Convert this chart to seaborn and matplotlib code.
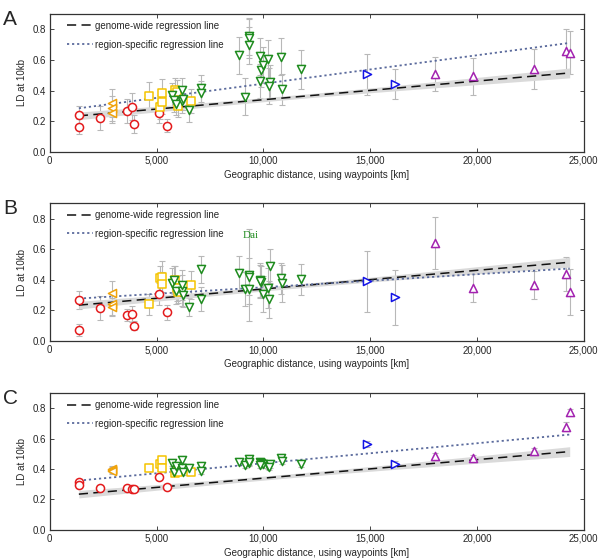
import matplotlib
matplotlib.use("Agg")
import matplotlib.pyplot as plt
import seaborn as sns
import numpy as np
from matplotlib.ticker import FuncFormatter

# distances [km], shared by all three panels
red_x = [1360, 1360, 2370, 3620, 3870, 3950, 5120, 5480]
orange_x = [2890, 2890, 2890]
yellow_x = [4650, 5150, 5230, 5270, 5850, 5950, 6000, 6630]
green_x = [5730, 5800, 5900, 6180, 6210, 6250, 6510, 7070, 7090, 8860, 9130, 9330,
           9330, 9340, 9860, 9880, 9990, 9830, 10220, 10300, 10250, 10815, 10890, 11780]
blue_x = [14830, 16180]
purple_x = [18020, 19820, 22670, 24190, 24340]

# LD at 10kb, panel A
red_a = [0.238, 0.165, 0.219, 0.265, 0.295, 0.182, 0.256, 0.171]
orange_a = [0.317, 0.284, 0.256]
yellow_a = [0.366, 0.291, 0.386, 0.327, 0.403, 0.392, 0.300, 0.332]
green_a = [0.371, 0.340, 0.310, 0.330, 0.403, 0.345, 0.273, 0.414, 0.382, 0.631, 0.360, 0.754,
           0.740, 0.696, 0.624, 0.533, 0.566, 0.462, 0.603, 0.457, 0.429, 0.620, 0.408, 0.538]
blue_a = [0.505, 0.442]
purple_a = [0.507, 0.494, 0.540, 0.659, 0.646]

red_a_err = [0.06, 0.05, 0.08, 0.08, 0.09, 0.06, 0.07, 0.04]
orange_a_err = [0.09, 0.08, 0.07]
yellow_a_err = [0.09, 0.08, 0.09, 0.08, 0.08, 0.08, 0.07, 0.08]
green_a_err = [0.08, 0.08, 0.07, 0.08, 0.08, 0.07, 0.08, 0.09, 0.08, 0.12, 0.12, 0.12,
               0.13, 0.12, 0.12, 0.11, 0.12, 0.11, 0.13, 0.11, 0.12, 0.12, 0.10, 0.13]
blue_a_err = [0.135, 0.10]
purple_a_err = [0.11, 0.12, 0.13, 0.14, 0.14]

# panel B
red_b = [0.267, 0.072, 0.217, 0.170, 0.176, 0.100, 0.307, 0.187]
orange_b = [0.311, 0.241, 0.224]
yellow_b = [0.239, 0.409, 0.420, 0.372, 0.402, 0.344, 0.320, 0.365]
green_b = [0.376, 0.400, 0.330, 0.330, 0.365, 0.300, 0.224, 0.468, 0.274, 0.445, 0.340, 0.430,
           0.340, 0.420, 0.398, 0.387, 0.307, 0.390, 0.348, 0.489, 0.272, 0.409, 0.376, 0.404]
blue_b = [0.391, 0.285]
purple_b = [0.641, 0.348, 0.365, 0.437, 0.318]

red_b_err = [0.06, 0.04, 0.08, 0.04, 0.05, 0.03, 0.07, 0.05]
orange_b_err = [0.08, 0.07, 0.06]
yellow_b_err = [0.07, 0.08, 0.10, 0.08, 0.09, 0.08, 0.07, 0.09]
green_b_err = [0.10, 0.09, 0.09, 0.10, 0.10, 0.08, 0.06, 0.09, 0.08, 0.11, 0.11, 0.30,
               0.10, 0.12, 0.11, 0.10, 0.12, 0.11, 0.13, 0.11, 0.12, 0.10, 0.12, 0.10]
blue_b_err = [0.20, 0.18]
purple_b_err = [0.17, 0.09, 0.09, 0.11, 0.15]

# panel C
red_c = [0.313, 0.296, 0.272, 0.277, 0.266, 0.270, 0.350, 0.279]
orange_c = [0.402, 0.395, 0.390]
yellow_c = [0.404, 0.432, 0.458, 0.410, 0.372, 0.390, 0.380, 0.378]
green_c = [0.443, 0.378, 0.420, 0.410, 0.458, 0.380, 0.410, 0.421, 0.390, 0.449, 0.428, 0.465,
           0.440, 0.445, 0.449, 0.440, 0.430, 0.425, 0.420, 0.430, 0.415, 0.471, 0.450, 0.432]
blue_c = [0.566, 0.436]
purple_c = [0.484, 0.471, 0.517, 0.679, 0.778]

red_c_err = [0.02, 0.02, 0.015, 0.015, 0.015, 0.015, 0.02, 0.015]
orange_c_err = [0.02, 0.02, 0.02]
yellow_c_err = [0.02, 0.02, 0.025, 0.02, 0.02, 0.02, 0.02, 0.02]
green_c_err = [0.02] * 24
blue_c_err = [0.02, 0.015]
purple_c_err = [0.02, 0.02, 0.02, 0.03, 0.02]

# regression lines (intercept, slope per km)
genome_fit = (0.218, 1.22e-5)
genome_se = (0.013, 2.2e-6, 11000)   # se at mean, se of slope, mean x
region_fits = [(0.259, 1.858e-5), (0.266, 8.53e-6), (0.306, 1.319e-5)]

panel_letters = ["A", "B", "C"]

sns.set_theme(style="ticks")
plt.rcParams["font.family"] = ["Liberation Sans", "DejaVu Sans"]

groups = [
    ("o", "#e41a1c", red_x, [red_a, red_b, red_c], [red_a_err, red_b_err, red_c_err]),
    ("<", "#f0a30a", orange_x, [orange_a, orange_b, orange_c], [orange_a_err, orange_b_err, orange_c_err]),
    ("s", "#f5c400", yellow_x, [yellow_a, yellow_b, yellow_c], [yellow_a_err, yellow_b_err, yellow_c_err]),
    ("v", "#1f8c1f", green_x, [green_a, green_b, green_c], [green_a_err, green_b_err, green_c_err]),
    (">", "#1414e6", blue_x, [blue_a, blue_b, blue_c], [blue_a_err, blue_b_err, blue_c_err]),
    ("^", "#a323b0", purple_x, [purple_a, purple_b, purple_c], [purple_a_err, purple_b_err, purple_c_err]),
]

fig = plt.figure(figsize=(6, 5.6), dpi=100)
positions = [(0.083, 0.729, 0.89, 0.246), (0.083, 0.391, 0.89, 0.246), (0.083, 0.054, 0.89, 0.244)]

all_x = red_x + orange_x + yellow_x + green_x + blue_x + purple_x
xs = np.linspace(min(all_x), max(all_x), 100)

for i, pos in enumerate(positions):
    ax = fig.add_axes(pos)
    for marker, color, gx, gy, gerr in groups:
        ax.errorbar(gx, gy[i], yerr=gerr[i], fmt="none", ecolor="#b8b8b8",
                    elinewidth=0.8, capsize=2.5, capthick=0.8, zorder=1)
    # genome-wide line with band
    gw = genome_fit[0] + genome_fit[1] * xs
    hw = np.sqrt(genome_se[0] ** 2 + (genome_se[1] * (xs - genome_se[2])) ** 2)
    ax.fill_between(xs, gw - hw, gw + hw, color="#dadada", lw=0, zorder=2)
    ax.plot(xs, gw, color="#111111", ls=(0, (6, 3.5)), lw=1.1, zorder=3,
            label="genome-wide regression line")
    rs = region_fits[i][0] + region_fits[i][1] * xs
    ax.plot(xs, rs, color="#5a6a9c", ls=(0, (1.2, 1.6)), lw=1.3, zorder=3,
            label="region-specific regression line")
    for marker, color, gx, gy, gerr in groups:
        sns.scatterplot(x=gx, y=gy[i], ax=ax, marker=marker, color="white",
                        edgecolor=color, linewidth=1.1, s=34, zorder=4)
    ax.set_xlim(0, 25000)
    ax.set_ylim(0, 0.9)
    ax.set_xticks([0, 5000, 10000, 15000, 20000, 25000])
    ax.set_yticks([0.0, 0.2, 0.4, 0.6, 0.8])
    ax.xaxis.set_major_formatter(FuncFormatter(lambda v, _: f"{int(v):,}"))
    ax.yaxis.set_major_formatter(FuncFormatter(lambda v, _: f"{v:.1f}"))
    ax.tick_params(direction="in", top=True, right=True, length=3, width=0.7,
                   labelsize=7, color="#444444", pad=3)
    for sp in ax.spines.values():
        sp.set_color("#333333")
        sp.set_linewidth(0.9)
    ax.set_xlabel("Geographic distance, using waypoints [km]", fontsize=7, labelpad=3)
    ax.set_ylabel("LD at 10kb", fontsize=7, labelpad=4)
    ax.legend(loc="upper left", bbox_to_anchor=(0.02, 1.0), frameon=False, fontsize=7,
              handlelength=2.6, handletextpad=0.3, labelspacing=0.9, borderaxespad=0.3)
    fig.text(0.005, pos[1] + pos[3] + 0.008, panel_letters[i], fontsize=15, va="top")
    if i == 1:
        ax.text(9400, 0.675, "Dai", color="#1f8c1f", fontsize=8,
                family=["Liberation Serif", "DejaVu Serif"], ha="center")

fig.savefig("out.png", dpi=100)
